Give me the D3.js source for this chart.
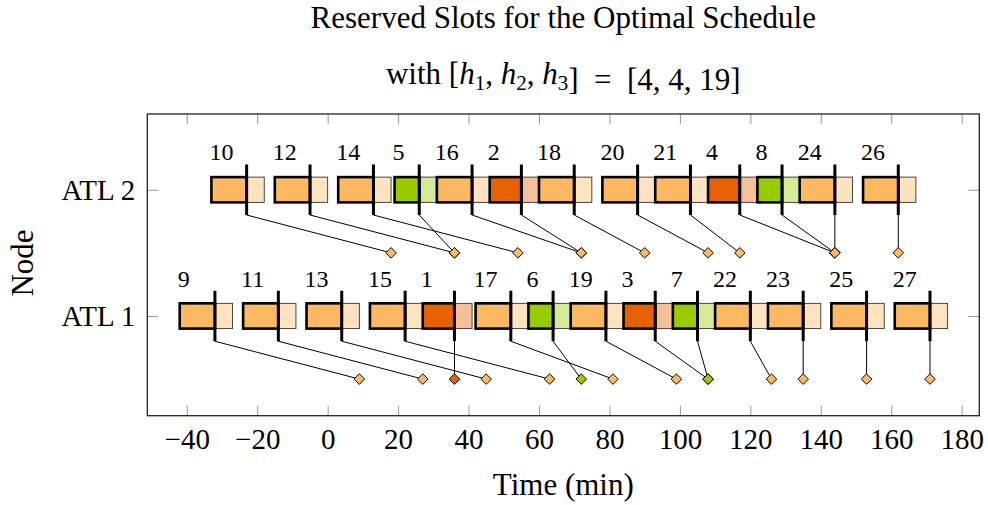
<!DOCTYPE html>
<html>
<head>
<meta charset="utf-8">
<script src="https://cdn.jsdelivr.net/npm/d3@7"></script>
<style>
  body { margin: 0; background: #fff; }
  svg text { font-family: "Liberation Serif", "Times New Roman", serif; fill: #000; }
</style>
</head>
<body>
<svg id="chart" width="988" height="505"></svg>
<script>
// Jobs, in job-number order (diamonds overlap, later ones win)
const jobIds     = [1, 2, 3, 4, 5, 6, 7, 8, 9, 10, 11, 12, 13, 14, 15, 16, 17, 18, 19, 20, 21, 22, 23, 24, 25, 26, 27];
const jobNode    = [1, 2, 1, 2, 2, 1, 1, 2, 1, 2, 1, 2, 1, 2, 1, 2, 1, 2, 1, 2, 2, 1, 1, 2, 1, 2, 1];
const jobStart   = [27, 46, 84, 108, 19, 57, 98, 122, -42, -33, -24, -15, -6, 3, 12, 31, 42, 60, 69, 78, 93, 110, 125, 134, 143, 152, 161];
const jobFixed   = [36, 55, 93, 117, 26, 64, 105, 129, -32, -23, -14, -5, 4, 13, 22, 41, 52, 70, 79, 88, 103, 120, 135, 144, 153, 162, 171];
const jobTarget  = [36, 72, 108, 144, 36, 72, 108, 144, 9, 18, 27, 36, 45, 54, 63, 72, 81, 90, 99, 108, 117, 126, 135, 144, 153, 162, 171];
const jobKind    = ['r', 'r', 'r', 'r', 'g', 'g', 'g', 'g', 'o', 'o', 'o', 'o', 'o', 'o', 'o', 'o', 'o', 'o', 'o', 'o', 'o', 'o', 'o', 'o', 'o', 'o', 'o'];
const bufferMin  = 5;

const xTicks = [-40, -20, 0, 20, 40, 60, 80, 100, 120, 140, 160, 180];
const yTicks = [1, 2];
const yTickLabels = ['ATL 1', 'ATL 2'];

const kindColors = {
    o: { dark: '#fdb863', light: '#fee3c1' },
    r: { dark: '#e66101', light: '#f5c099' },
    g: { dark: '#99cc00', light: '#d6eb99' }
};

const jobs = jobIds.map((id, i) => ({
    id: id,
    node: jobNode[i],
    start: jobStart[i],
    fixed: jobFixed[i],
    target: jobTarget[i],
    kind: jobKind[i]
}));

const svg = d3.select('#chart');
const plotLeft = 147.3, plotRight = 979.3, plotTop = 114, plotBottom = 415.7;

const x = d3.scaleLinear().domain([-51.2, 185]).range([plotLeft, plotRight]);
const y = d3.scaleLinear().domain([0.21, 2.6]).range([plotBottom, plotTop]);

// Axes (inward ticks, mirrored)
const xAxis = svg.append('g')
    .attr('transform', `translate(0,${plotBottom})`)
    .call(d3.axisBottom(x).tickValues(xTicks).tickSize(-10).tickPadding(0));
xAxis.selectAll('text')
    .attr('y', 33)
    .attr('dy', 0)
    .style('font-size', '29px');

svg.append('g')
    .attr('transform', `translate(0,${plotTop})`)
    .call(d3.axisTop(x).tickValues(xTicks).tickSize(-10).tickFormat(''));

const yAxis = svg.append('g')
    .attr('transform', `translate(${plotLeft},0)`)
    .call(d3.axisLeft(y).tickValues(yTicks).tickSize(-11).tickPadding(12)
        .tickFormat((d, i) => yTickLabels[i]));
yAxis.selectAll('text').style('font-size', '29px').attr('dy', '0.34em');

svg.append('g')
    .attr('transform', `translate(${plotRight},0)`)
    .call(d3.axisRight(y).tickValues(yTicks).tickSize(-11).tickFormat(''));

svg.selectAll('.domain').remove();
svg.selectAll('.tick line').attr('stroke', '#999').attr('stroke-width', 1);

svg.append('rect')
    .attr('x', plotLeft).attr('y', plotTop)
    .attr('width', plotRight - plotLeft).attr('height', plotBottom - plotTop)
    .attr('fill', 'none').attr('stroke', '#222').attr('stroke-width', 1.3);

const halfBox = 0.1, halfFix = 0.2, diamondDrop = 0.5;

const marks = svg.append('g');

// Buffer (light) parts first, then reserved (dark) parts on top
marks.selectAll('.buffer')
    .data(jobs)
    .join('rect')
    .attr('class', 'buffer')
    .attr('x', d => x(d.fixed))
    .attr('y', d => y(d.node + halfBox))
    .attr('width', d => x(d.fixed + bufferMin) - x(d.fixed))
    .attr('height', d => y(d.node - halfBox) - y(d.node + halfBox))
    .attr('fill', d => kindColors[d.kind].light)
    .attr('stroke', '#333')
    .attr('stroke-width', 0.9);

marks.selectAll('.slot')
    .data(jobs)
    .join('rect')
    .attr('class', 'slot')
    .attr('x', d => x(d.start))
    .attr('y', d => y(d.node + halfBox))
    .attr('width', d => x(d.fixed) - x(d.start))
    .attr('height', d => y(d.node - halfBox) - y(d.node + halfBox))
    .attr('fill', d => kindColors[d.kind].dark)
    .attr('stroke', '#000')
    .attr('stroke-width', 2.6);

marks.selectAll('.fix')
    .data(jobs)
    .join('line')
    .attr('class', 'fix')
    .attr('x1', d => x(d.fixed)).attr('x2', d => x(d.fixed))
    .attr('y1', d => y(d.node + halfFix)).attr('y2', d => y(d.node - halfFix))
    .attr('stroke', '#000')
    .attr('stroke-width', 3);

marks.selectAll('.link')
    .data(jobs)
    .join('line')
    .attr('class', 'link')
    .attr('x1', d => x(d.fixed)).attr('y1', d => y(d.node - halfFix))
    .attr('x2', d => x(d.target)).attr('y2', d => y(d.node - diamondDrop))
    .attr('stroke', '#000')
    .attr('stroke-width', 1);

const diamond = d3.symbol(d3.symbolSquare, 56);
marks.selectAll('.target')
    .data(jobs)
    .join('path')
    .attr('class', 'target')
    .attr('d', diamond)
    .attr('transform', d => `translate(${x(d.target)},${y(d.node - diamondDrop)}) rotate(45)`)
    .attr('fill', d => kindColors[d.kind].dark)
    .attr('stroke', '#000')
    .attr('stroke-width', 0.9);

marks.selectAll('.job-label')
    .data(jobs)
    .join('text')
    .attr('class', 'job-label')
    .attr('x', d => x(d.start))
    .attr('y', d => y(d.node + halfFix))
    .attr('dx', -2)
    .attr('dy', -4)
    .style('font-size', '24px')
    .text(d => d.id);

// Titles and axis labels
const midX = (plotLeft + plotRight) / 2;
svg.append('text')
    .attr('x', midX).attr('y', 28)
    .attr('text-anchor', 'middle')
    .style('font-size', '31px')
    .text('Reserved Slots for the Optimal Schedule');

const sub = svg.append('text')
    .attr('x', midX).attr('y', 84)
    .attr('text-anchor', 'middle')
    .style('font-size', '31px');
sub.append('tspan').text('with [');
[1, 2, 3].forEach((k, i) => {
    sub.append('tspan').style('font-style', 'italic').text('h');
    sub.append('tspan').attr('dy', 6).style('font-size', '21px').text(k);
    sub.append('tspan').attr('dy', -6).text(i < 2 ? ', ' : '');
});
sub.append('tspan').text(']\u2002=\u2002[4, 4, 19]');

svg.append('text')
    .attr('x', midX).attr('y', 495)
    .attr('text-anchor', 'middle')
    .style('font-size', '31px')
    .text('Time (min)');

svg.append('text')
    .attr('transform', `translate(33,263) rotate(-90)`)
    .attr('text-anchor', 'middle')
    .style('font-size', '31px')
    .text('Node');
</script>
</body>
</html>
